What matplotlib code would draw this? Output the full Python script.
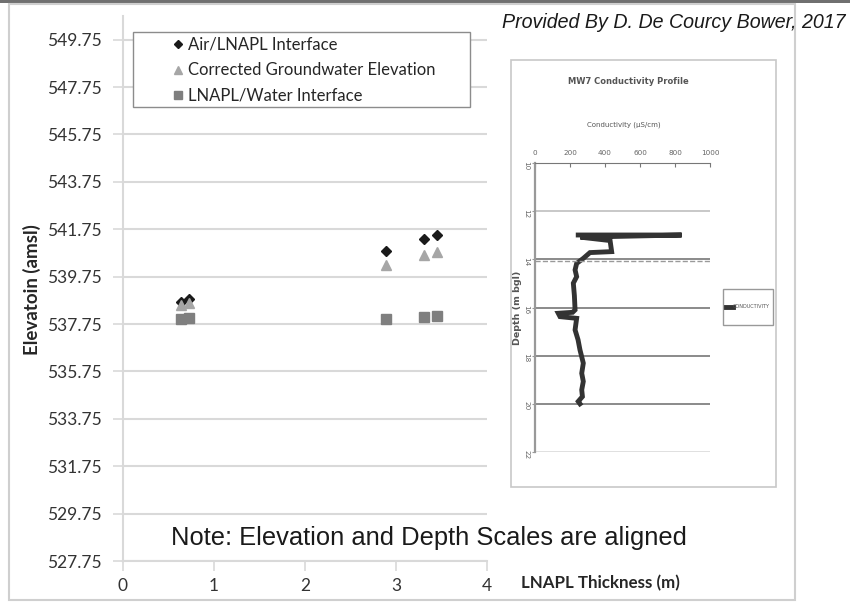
import matplotlib
matplotlib.use("Agg")
import matplotlib.pyplot as plt
from matplotlib.patches import Rectangle

# main chart data (LNAPL thickness vs elevation)
thickness = [0.64, 0.72, 2.89, 3.31, 3.45]
air_lnapl = [538.70, 538.80, 540.85, 541.35, 541.51]
corrected_gw = [538.55, 538.63, 540.26, 540.68, 540.79]
lnapl_water = [537.98, 538.02, 537.98, 538.05, 538.08]
series_labels = ["Air/LNAPL Interface", "Corrected Groundwater Elevation", "LNAPL/Water Interface"]
elev_ticks = [527.75, 529.75, 531.75, 533.75, 535.75, 537.75, 539.75,
              541.75, 543.75, 545.75, 547.75, 549.75]
thick_ticks = [0, 1, 2, 3, 4]

# inset conductivity profile (MW7)
depth = [12.99, 12.99, 13.08, 13.22, 13.68, 13.72, 13.96, 14.17, 14.44, 14.72,
         14.99, 15.5, 16.1, 16.2, 16.24, 16.38, 16.45, 16.93, 17.34, 17.76,
         18.31, 18.73, 19.07, 19.42, 19.70, 19.9, 20.0]
conductivity = [247, 838, 260, 429, 438, 314, 276, 238, 229, 238,
                219, 225, 229, 215, 133, 143, 238, 229, 246, 257,
                276, 267, 276, 267, 271, 247, 257]
cond_ticks = [0, 200, 400, 600, 800, 1000]
depth_ticks = [10, 12, 14, 16, 18, 20, 22]

W, H = 850, 605


def box(x0, y0, x1, y1):
    # pixel box (top-left origin) -> figure fraction rect
    return [x0 / W, 1 - y1 / H, (x1 - x0) / W, (y1 - y0) / H]


fig = plt.figure(figsize=(W / 100, H / 100), dpi=100)
fig.patch.set_facecolor("white")

# outer frames
fig.add_artist(Rectangle((0, 1 - 3 / H), 1, 3 / H, transform=fig.transFigure,
                         facecolor="#707070", edgecolor="none"))
fig.add_artist(Rectangle((9 / W, 1 - 600 / H), 786 / W, 596 / H, transform=fig.transFigure,
                         facecolor="none", edgecolor="#cfcfcf", lw=1.5))

# ---- main scatter ----
ax = fig.add_axes(box(123, 16, 487, 561))
ax.plot(thickness, air_lnapl, "D", color="#1a1a1a", ms=5, label=series_labels[0])
ax.plot(thickness, corrected_gw, "^", color="#a6a6a6", ms=7, label=series_labels[1])
ax.plot(thickness, lnapl_water, "s", color="#7f7f7f", ms=7, label=series_labels[2])

ax.set_xlim(0, 4)
ax.set_ylim(527.75, 550.75)
ax.set_yticks(elev_ticks)
ax.set_yticklabels([f"{v:.2f}" for v in elev_ticks])
ax.set_xticks(thick_ticks)
ax.grid(axis="y", color="#d9d9d9", lw=1.5)
ax.set_axisbelow(True)
for s in ["top", "right"]:
    ax.spines[s].set_visible(False)
ax.spines["left"].set_color("#d9d9d9")
ax.spines["bottom"].set_color("#d9d9d9")
ax.spines["left"].set_linewidth(1.5)
ax.spines["bottom"].set_linewidth(1.5)
ax.tick_params(axis="both", colors="#d9d9d9", length=7, width=1.2, labelcolor="#333333",
               labelsize=12.5)
ax.tick_params(axis="y", pad=8.5)
ax.tick_params(axis="x", pad=5)
for lab in ax.get_xticklabels() + ax.get_yticklabels():
    lab.set_family("Lato")

# legend: frame drawn separately to get the wide left padding of the original
ax.add_patch(Rectangle(((133 - 123) / 364, (561 - 107) / 545), 337 / 364, 75 / 545,
                       transform=ax.transAxes, facecolor="white", edgecolor="#8c8c8c",
                       lw=1.0, zorder=3))
leg = ax.legend(loc="upper left", bbox_to_anchor=((171 - 123) / 364, (561 - 37) / 545),
                borderaxespad=0, frameon=False, borderpad=0,
                prop={"family": "Lato", "size": 12}, handlelength=0.8, handletextpad=0.25,
                labelspacing=0.56, markerscale=0.75)
leg.set_zorder(4)
for t in leg.get_texts():
    t.set_color("#262626")

fig.text(32 / W, 1 - 290 / H, "Elevatoin (amsl)", rotation=90, ha="center", va="center",
         family="Lato", weight="bold", size=13.5, color="#262626")
fig.text(600 / W, 1 - 583 / H, "LNAPL Thickness (m)", ha="center", va="center",
         family="Lato", weight="bold", size=12.2, color="#262626")
fig.text(429 / W, 1 - 538 / H, "Note: Elevation and Depth Scales are aligned",
         ha="center", va="center", family="Liberation Sans", size=18.4, color="#1a1a1a")
fig.text(845 / W, 1 - 23 / H, "Provided By D. De Courcy Bower, 2017", ha="right",
         va="center", family="Liberation Sans", style="italic", size=14.1, color="#1a1a1a")

# ---- inset conductivity profile ----
fig.add_artist(Rectangle((511 / W, 1 - 487 / H), 265 / W, 427 / H, transform=fig.transFigure,
                         facecolor="white", edgecolor="#c8c8c8", lw=1.2, zorder=0.5))
ia = fig.add_axes(box(535, 163, 710, 452))
ia.set_zorder(2)
ia.plot(conductivity, depth, color="#333333", lw=3.5, solid_joinstyle="miter",
        label="CONDUCTIVITY")
ia.set_xlim(0, 1000)
ia.set_ylim(22, 10)
ia.set_yticks(depth_ticks)
ia.set_xticks(cond_ticks)
ia.xaxis.tick_top()
ia.grid(axis="y", color="#8a8a8a", lw=1.4)
grid_cols = ["#8a8a8a", "#c8c8c8", "#8a8a8a", "#8a8a8a", "#8a8a8a", "#8a8a8a", "#e0e0e0"]
for gl, c in zip(ia.get_ygridlines(), grid_cols):
    gl.set_color(c)
ia.axhline(14.08, color="#9a9a9a", lw=1.0, ls="--")
ia.set_axisbelow(True)
for s in ["bottom", "right"]:
    ia.spines[s].set_visible(False)
ia.spines["top"].set_color("#777777")
ia.spines["left"].set_color("#999999")
ia.spines["left"].set_linewidth(1.6)
ia.tick_params(axis="x", direction="in", length=3, colors="#777777", labelsize=5.2,
               labelcolor="#666666", pad=5)
ia.tick_params(axis="y", length=2, colors="#999999", labelsize=5.2, labelcolor="#666666",
               labelrotation=-90, pad=2)
ia.set_ylabel("Depth (m bgl)", fontsize=6.8, color="#555555", weight="bold", labelpad=1)
fig.text(624 / W, 1 - 125 / H, "Conductivity (\u00b5S/cm)", ha="center", va="center",
         size=5, color="#555555")
fig.text(628 / W, 1 - 81 / H, "MW7 Conductivity Profile", ha="center", va="center",
         size=6, weight="bold", color="#555555")
fig.add_artist(Rectangle((723 / W, 1 - 325 / H), 50 / W, 36 / H, transform=fig.transFigure,
                         facecolor="white", edgecolor="#999999", lw=1.0, zorder=1.5))
ileg = ia.legend(loc="center", bbox_to_anchor=(748 / W, 1 - 307 / H),
                 bbox_transform=fig.transFigure, frameon=False, prop={"size": 3.6},
                 handlelength=1.3, handletextpad=0.1, borderpad=0)
for t in ileg.get_texts():
    t.set_color("#555555")

fig.savefig("out.png", dpi=100)
